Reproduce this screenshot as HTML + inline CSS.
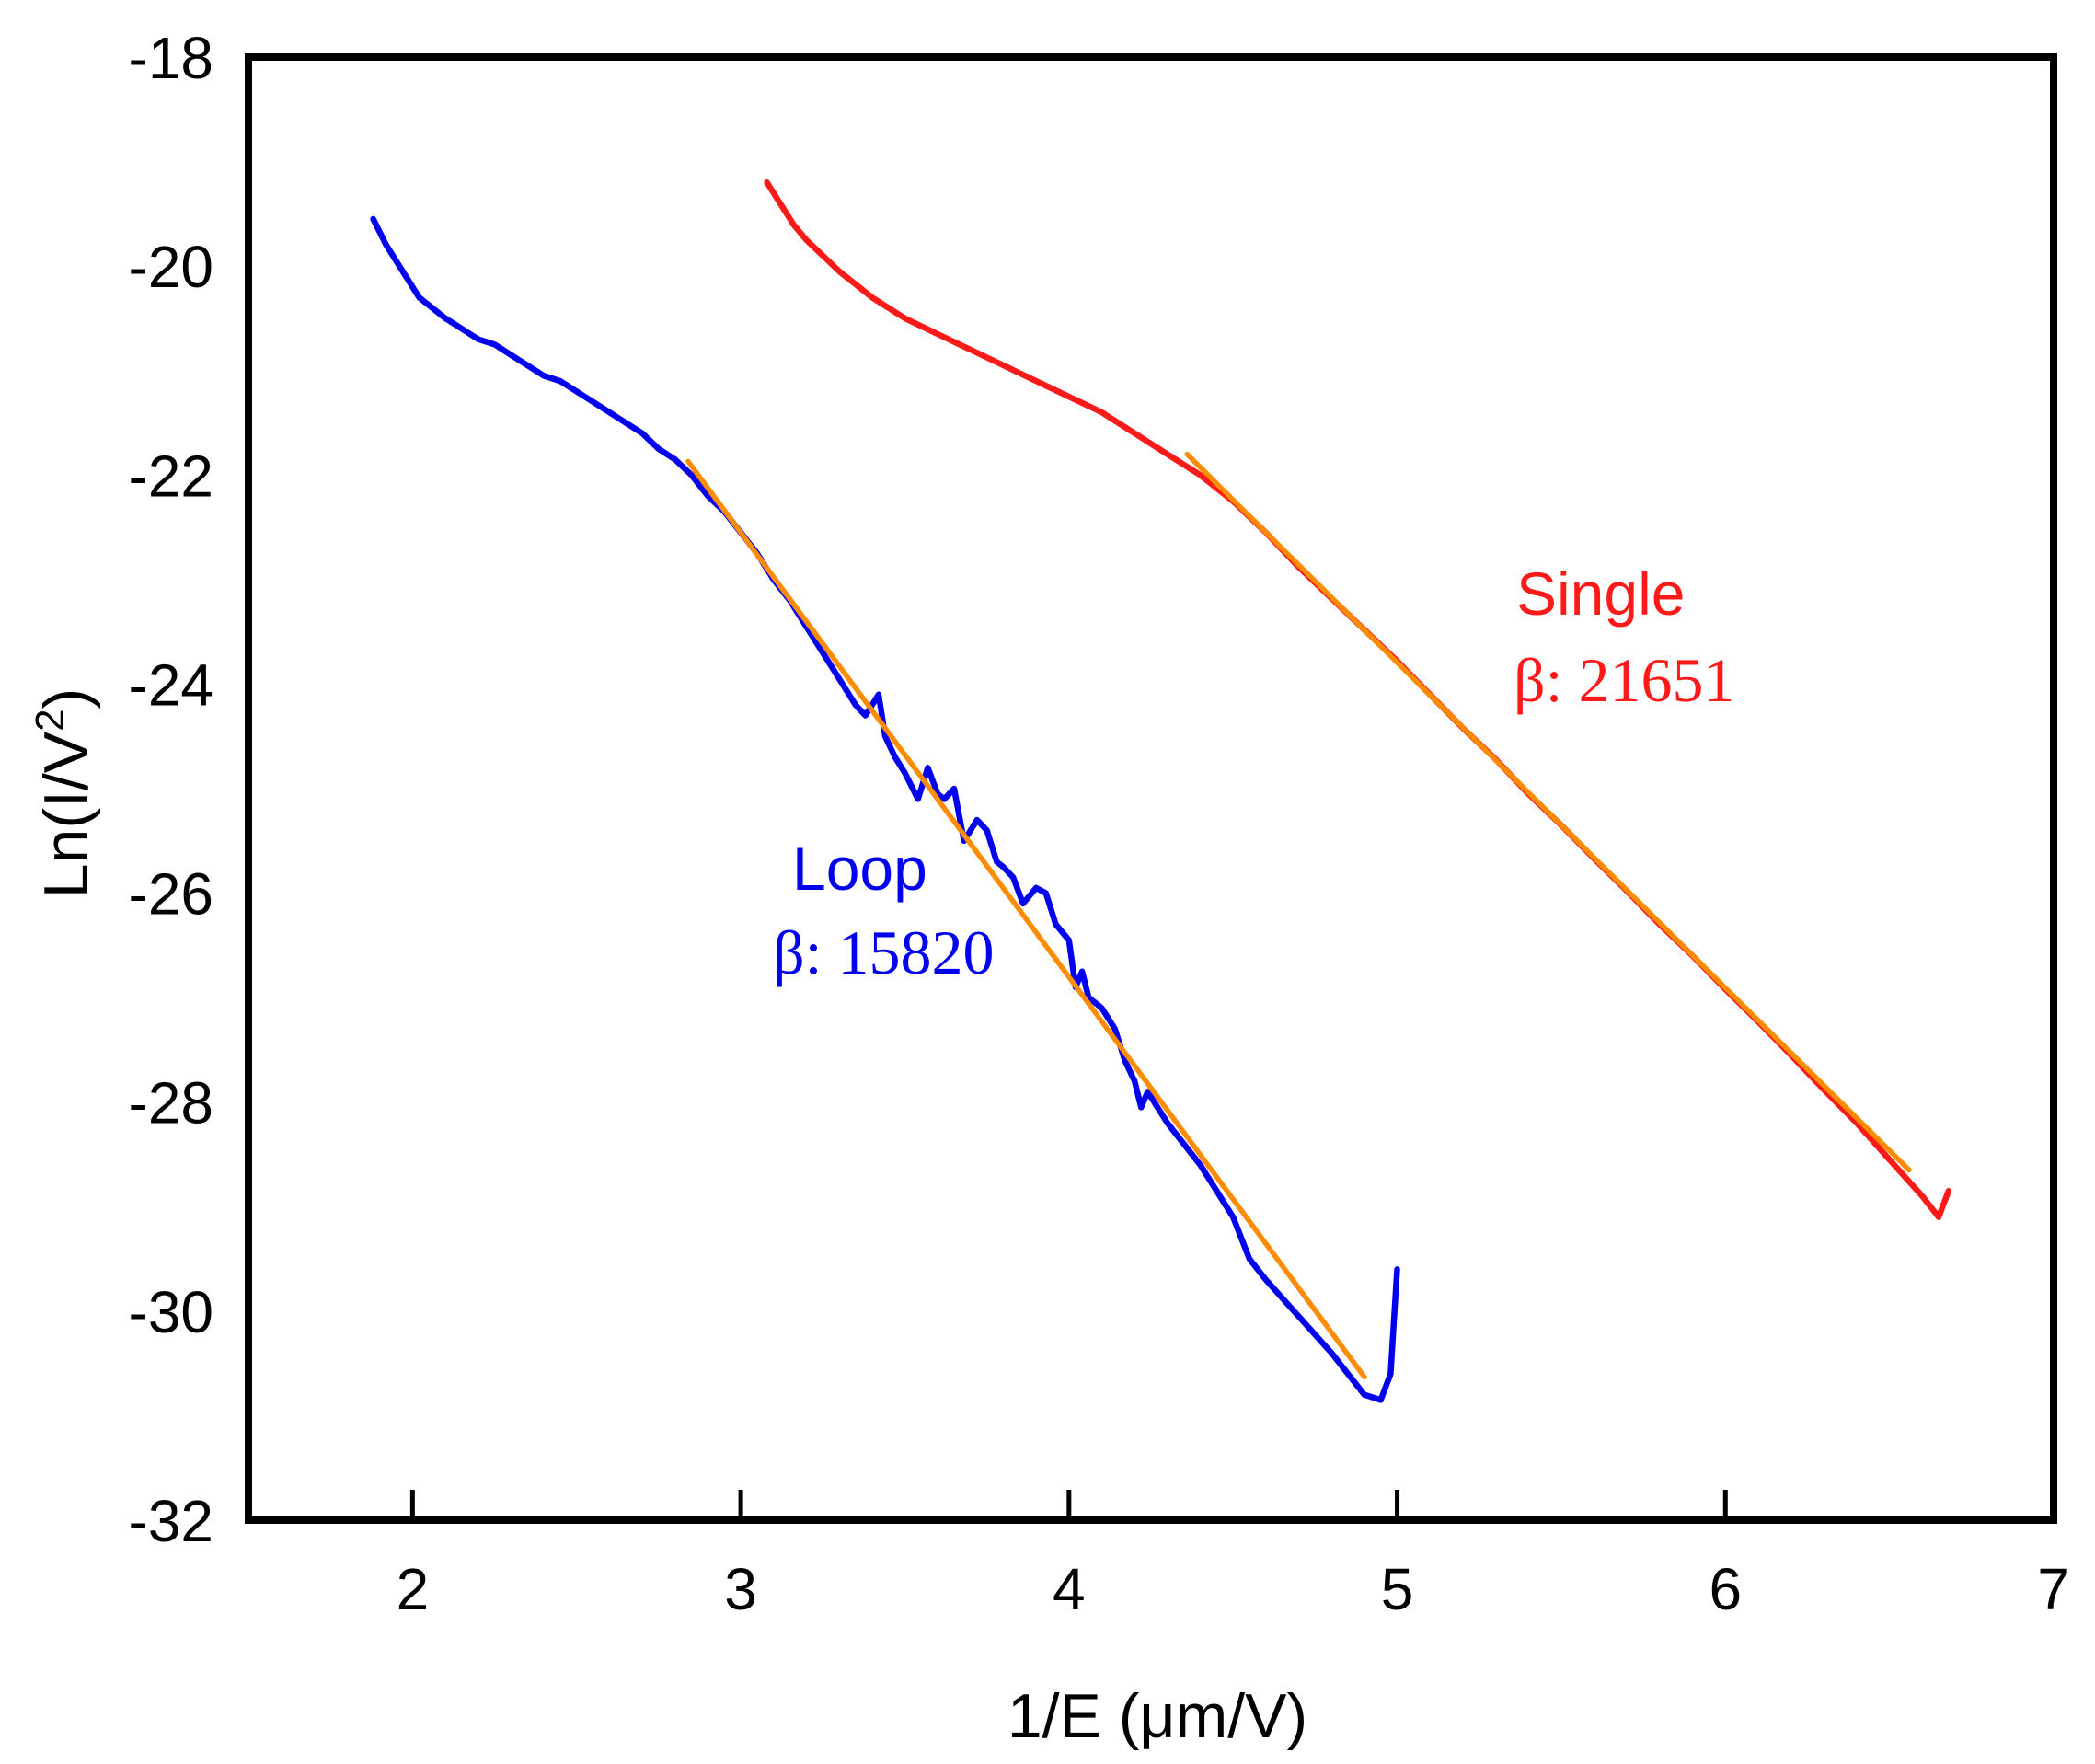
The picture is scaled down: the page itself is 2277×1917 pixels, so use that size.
<!DOCTYPE html>
<html><head><meta charset="utf-8"><style>
html,body{margin:0;padding:0;background:#fff;}
svg{display:block;}
</style></head><body>
<svg id="chart" width="2277" height="1917" viewBox="0 0 2277 1917" xmlns="http://www.w3.org/2000/svg">
<rect width="2277" height="1917" fill="#fff"/>
<g id="series"></g>
<rect x="270" y="62" width="1962" height="1590" fill="none" stroke="#000" stroke-width="8"/>
<g id="xticks"></g><g id="yticks"></g>
<text x="1258" y="1888" text-anchor="middle" font-family="Liberation Sans, sans-serif" font-size="68">1/E (μm/V)</text>
<text transform="translate(95,862) rotate(-90)" text-anchor="middle" font-family="Liberation Sans, sans-serif" font-size="68">Ln(I/V<tspan font-size="44" dy="-26">2</tspan><tspan dy="26">)</tspan></text>
<text x="1648" y="668" font-family="Liberation Sans, sans-serif" font-size="66" fill="#ff1a1a">Single</text>
<text x="1645" y="762" font-family="Liberation Serif, serif" font-size="68" fill="#ff1a1a">β: 21651</text>
<text x="861" y="967" font-family="Liberation Sans, sans-serif" font-size="66" fill="#0000ee">Loop</text>
<text x="840" y="1058" font-family="Liberation Serif, serif" font-size="68" fill="#0000ee">β: 15820</text>
</svg>
<script>
const xTicks=[2,3,4,5,6,7];
const yTicks=[-18,-20,-22,-24,-26,-28,-30,-32];
const loopX=[1.88,1.92,1.96,2.0,2.02,2.06,2.1,2.15,2.2,2.25,2.3,2.35,2.4,2.45,2.5,2.55,2.6,2.65,2.7,2.75,2.8,2.85,2.9,2.95,3.0,3.05,3.1,3.15,3.2,3.25,3.3,3.35,3.38,3.42,3.44,3.47,3.5,3.54,3.57,3.6,3.62,3.65,3.68,3.72,3.75,3.78,3.8,3.83,3.86,3.9,3.93,3.96,4.0,4.02,4.04,4.06,4.1,4.14,4.17,4.2,4.22,4.24,4.3,4.4,4.5,4.55,4.6,4.7,4.8,4.85,4.9,4.95,4.98,5.0];
const loopY=[-19.55,-19.8,-20.0,-20.2,-20.3,-20.4,-20.5,-20.6,-20.7,-20.75,-20.85,-20.95,-21.05,-21.1,-21.2,-21.3,-21.4,-21.5,-21.6,-21.75,-21.85,-22.0,-22.2,-22.35,-22.55,-22.75,-23.0,-23.2,-23.45,-23.7,-23.95,-24.2,-24.3,-24.1,-24.5,-24.7,-24.85,-25.1,-24.8,-25.05,-25.1,-25.0,-25.5,-25.3,-25.4,-25.7,-25.75,-25.85,-26.1,-25.95,-26.0,-26.3,-26.45,-26.9,-26.75,-27.0,-27.1,-27.3,-27.6,-27.8,-28.05,-27.9,-28.2,-28.6,-29.1,-29.5,-29.7,-30.05,-30.4,-30.6,-30.8,-30.85,-30.6,-29.6];
const singleX=[3.08,3.12,3.16,3.2,3.3,3.4,3.5,3.6,3.7,3.8,3.9,4.0,4.1,4.2,4.3,4.4,4.5,4.6,4.7,4.8,4.9,5.0,5.1,5.2,5.3,5.4,5.5,5.6,5.7,5.8,5.9,6.0,6.1,6.2,6.3,6.4,6.5,6.6,6.65,6.68];
const singleY=[-19.2,-19.4,-19.6,-19.75,-20.05,-20.3,-20.5,-20.65,-20.8,-20.95,-21.1,-21.25,-21.4,-21.6,-21.8,-22.0,-22.25,-22.55,-22.88,-23.18,-23.48,-23.78,-24.1,-24.42,-24.72,-25.05,-25.35,-25.67,-25.98,-26.3,-26.6,-26.92,-27.23,-27.55,-27.88,-28.2,-28.55,-28.9,-29.1,-28.85];
const loopFitX=[2.84,4.90];
const loopFitY=[-21.87,-30.63];
const singleFitX=[4.36,6.56];
const singleFitY=[-21.8,-28.65];

const L=270,R=2232,T=62,B=1652,XMIN=1.5,XMAX=7,YMIN=-32,YMAX=-18;
function sx(v){return L+(v-XMIN)/(XMAX-XMIN)*(R-L);}
function sy(v){return B-(v-YMIN)/(YMAX-YMIN)*(B-T);}
const NS='http://www.w3.org/2000/svg';
function path(xs,ys,color,w,name){
  const p=document.createElementNS(NS,'path');
  p.setAttribute('d',xs.map((x,i)=>(i?'L':'M')+sx(x).toFixed(1)+' '+sy(ys[i]).toFixed(1)).join(' '));
  p.setAttribute('fill','none');p.setAttribute('stroke',color);p.setAttribute('stroke-width',w);
  p.setAttribute('stroke-linejoin','round');p.setAttribute('stroke-linecap','round');
  
  
  document.getElementById('series').appendChild(p);
}
path(loopX,loopY,'#0000ee',6.5,'loop-curve');
path(singleX,singleY,'#ff1a1a',6.5,'single-curve');
path(loopFitX,loopFitY,'#ff8c00',5.5,'loop-fit-line');
path(singleFitX,singleFitY,'#ff8c00',5.5,'single-fit-line');
const xg=document.getElementById('xticks');
xTicks.forEach(v=>{
  const l=document.createElementNS(NS,'line');
  l.setAttribute('x1',sx(v));l.setAttribute('x2',sx(v));l.setAttribute('y1',B);l.setAttribute('y2',B-33);
  l.setAttribute('stroke','#000');l.setAttribute('stroke-width',5);
  
  
  xg.appendChild(l);
  const t=document.createElementNS(NS,'text');
  t.setAttribute('x',sx(v));t.setAttribute('y',1749);t.setAttribute('text-anchor','middle');
  t.setAttribute('font-family','Liberation Sans, sans-serif');t.setAttribute('font-size','64');
  t.textContent=v;
  
  
  xg.appendChild(t);
});
const yg=document.getElementById('yticks');
yTicks.forEach(v=>{
  const t=document.createElementNS(NS,'text');
  t.setAttribute('x',232);t.setAttribute('y',sy(v)+23);t.setAttribute('text-anchor','end');
  t.setAttribute('font-family','Liberation Sans, sans-serif');t.setAttribute('font-size','64');
  t.textContent=v;
  
  
  yg.appendChild(t);
});
</script>
</body></html>
